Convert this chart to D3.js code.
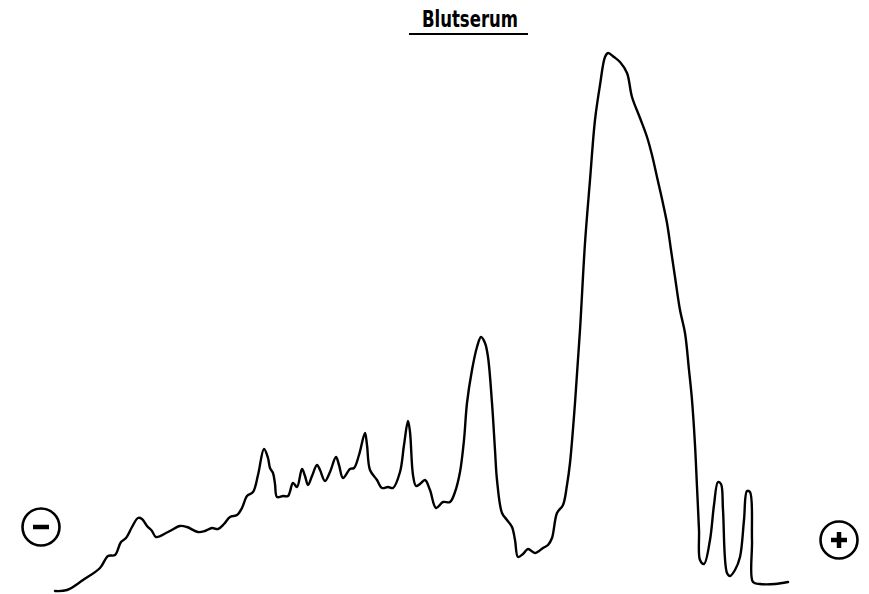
<!DOCTYPE html>
<html>
<head>
<meta charset="utf-8">
<script src="https://cdn.jsdelivr.net/npm/d3@7"></script>
<style>
  html, body { margin: 0; padding: 0; background: #fff; }
  svg { display: block; }
</style>
</head>
<body>
<svg id="chart" width="869" height="594"></svg>
<script>
// Densitometric scan of a serum electrophoresis strip (cathode left, anode right)
const title = "Blutserum";

// migration distance along the strip (arbitrary units)
const migration = [
  0, 12, 28, 45, 53, 60, 66, 71, 77, 83, 87, 92, 97, 101, 113, 125, 132, 143, 150, 157,
  163, 169, 175, 182, 187, 192, 198, 203, 209, 213, 215, 218, 220, 222, 228, 233, 238, 242, 247, 250,
  253, 257, 262, 265, 270, 275, 281, 284, 288, 295, 299, 304, 310, 312, 315, 322, 327, 333, 338, 345,
  349, 353, 355, 358, 361, 365, 370, 375, 381, 388, 395, 400, 405, 409, 412, 417, 422, 426, 430, 433,
  437, 440, 442, 447, 452, 457, 460, 463, 468, 473, 480, 488, 493, 497, 502, 508, 512, 515, 520, 525,
  530, 535, 540, 545, 550, 553, 559, 565, 572, 577, 585, 592, 597, 602, 607, 612, 616, 620, 625, 630,
  634, 637, 640, 642, 644, 645, 649, 655, 659, 663, 666, 668, 672, 675, 680, 685, 689, 692, 695, 697,
  698, 705, 720, 733
];

// optical density (arbitrary units)
const density = [
  1, 2, 12, 24, 36, 37, 50, 54, 65, 74, 73, 66, 61, 55, 60, 66, 65, 60, 61, 64,
  63, 68, 75, 77, 84, 96, 100, 117, 143, 134, 124, 119, 108, 95, 96, 96, 109, 105, 123, 116,
  107, 116, 127, 122, 111, 120, 135, 127, 114, 123, 124, 137, 159, 147, 122, 112, 104, 105, 104, 120,
  147, 171, 160, 117, 106, 108, 112, 102, 84, 90, 90, 100, 120, 152, 189, 222, 245, 255, 249, 235,
  189, 142, 112, 79, 72, 65, 52, 35, 38, 43, 39, 44, 47, 54, 79, 87, 107, 129, 189, 262,
  349, 412, 472, 507, 535, 539, 535, 530, 519, 495, 474, 455, 437, 415, 393, 369, 342, 315, 282, 259,
  222, 192, 147, 105, 62, 32, 28, 52, 87, 110, 108, 82, 19, 16, 22, 35, 72, 101, 100, 52,
  10, 8, 8, 10
];

// electrode markers
const electrodes = [
  { sign: "minus", pos: -14, level: 65 },
  { sign: "plus", pos: 784, level: 52 }
];

const svg = d3.select("#chart");

const x = d3.scaleLinear().domain([0, 735]).range([55, 790]);
const y = d3.scaleLinear().domain([0, 539]).range([592, 53]);

const points = migration.map((m, i) => [m, density[i]]);

const line = d3.line()
  .x(d => x(d[0]))
  .y(d => y(d[1]))
  .curve(d3.curveCatmullRom.alpha(0.5));

svg.append("path")
  .datum(points)
  .attr("d", line)
  .attr("fill", "none")
  .attr("stroke", "#000")
  .attr("stroke-width", 2.4)
  .attr("stroke-linejoin", "round")
  .attr("stroke-linecap", "round");

// title with underline
svg.append("text")
  .attr("x", 470)
  .attr("y", 27)
  .attr("text-anchor", "middle")
  .attr("font-family", "'DejaVu Sans Condensed', 'Liberation Sans Narrow', sans-serif")
  .attr("font-weight", "bold")
  .attr("font-size", 23)
  .attr("textLength", 96)
  .attr("lengthAdjust", "spacingAndGlyphs")
  .attr("fill", "#000")
  .text(title);

svg.append("line")
  .attr("x1", 409).attr("x2", 528)
  .attr("y1", 34).attr("y2", 34)
  .attr("stroke", "#000")
  .attr("stroke-width", 2.2);

// electrode symbols
const el = svg.selectAll("g.electrode")
  .data(electrodes)
  .join("g")
  .attr("class", "electrode")
  .attr("transform", d => `translate(${x(d.pos)},${y(d.level)})`);

el.append("circle")
  .attr("r", 18.5)
  .attr("fill", "none")
  .attr("stroke", "#000")
  .attr("stroke-width", 2.6);

el.append("line")
  .attr("x1", -8).attr("x2", 8)
  .attr("y1", 0).attr("y2", 0)
  .attr("stroke", "#000")
  .attr("stroke-width", 4.5);

el.filter(d => d.sign === "plus")
  .append("line")
  .attr("x1", 0).attr("x2", 0)
  .attr("y1", -8).attr("y2", 8)
  .attr("stroke", "#000")
  .attr("stroke-width", 4.5);
</script>
</body>
</html>
